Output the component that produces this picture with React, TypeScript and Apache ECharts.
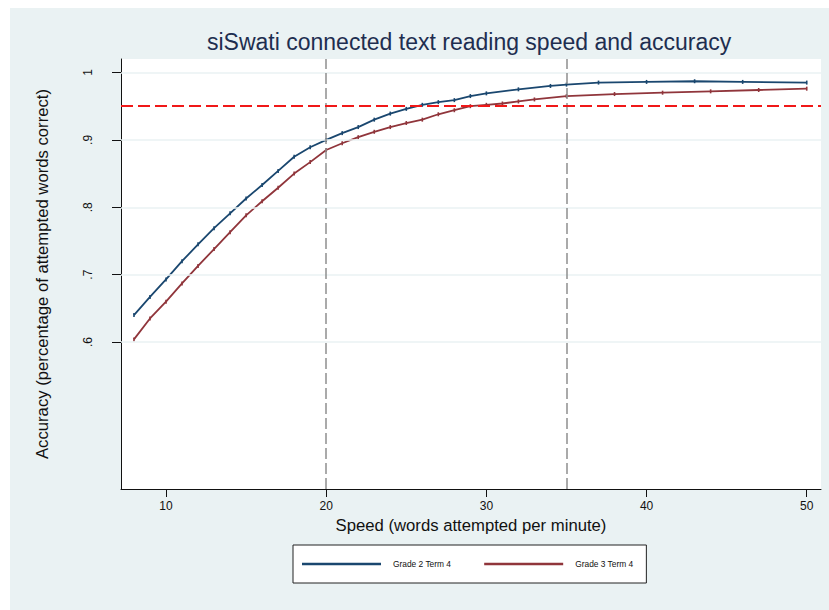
import React, { useEffect, useRef } from "react";
import * as echarts from "echarts";

const titleText = "siSwati connected text reading speed and accuracy";
const xAxisTitle = "Speed (words attempted per minute)";
const yAxisTitle = "Accuracy (percentage of attempted words correct)";

const seriesNames = ["Grade 2 Term 4", "Grade 3 Term 4"];

const grade2Speed = [8, 9, 10, 11, 12, 13, 14, 15, 16, 17, 18, 19, 20, 21, 22, 23, 24, 25, 26, 27, 28, 29, 30, 32, 34, 35, 37, 40, 43, 46, 50];
const grade2Accuracy = [0.640, 0.667, 0.693, 0.720, 0.745, 0.769, 0.791, 0.813, 0.833, 0.854, 0.875, 0.889, 0.900, 0.910, 0.919, 0.930, 0.939, 0.946, 0.952, 0.956, 0.959, 0.965, 0.969, 0.975, 0.980, 0.982, 0.985, 0.986, 0.987, 0.986, 0.985];

const grade3Speed = [8, 9, 10, 11, 12, 13, 14, 15, 16, 17, 18, 19, 20, 21, 22, 23, 24, 25, 26, 27, 28, 29, 30, 31, 32, 33, 35, 38, 41, 44, 47, 50];
const grade3Accuracy = [0.604, 0.635, 0.660, 0.687, 0.713, 0.738, 0.763, 0.788, 0.809, 0.829, 0.850, 0.867, 0.885, 0.895, 0.904, 0.912, 0.919, 0.925, 0.930, 0.938, 0.944, 0.950, 0.952, 0.954, 0.957, 0.960, 0.965, 0.968, 0.970, 0.972, 0.974, 0.976];

const xTicks = [10, 20, 30, 40, 50];
const yTicks = [0.6, 0.7, 0.8, 0.9, 1];
const verticalRefs = [20, 35];
const horizontalRef = 0.95;

const FONT = "'Liberation Sans', Arial, Helvetica, sans-serif";
const NAVY = "#1A476F";
const MAROON = "#90353B";
const BG = "#EAF2F3";

export default function App() {
  const ref = useRef<HTMLDivElement>(null);
  useEffect(() => {
    if (!ref.current) return;
    const chart = echarts.init(ref.current, null, { renderer: "svg" });
    const pairs = (xs: number[], ys: number[]) => xs.map((x, i) => [x, ys[i]]);
    chart.setOption({
      animation: false,
      backgroundColor: "#ffffff",
      textStyle: { fontFamily: FONT },
      graphic: [
        {
          type: "rect",
          z: -100,
          silent: true,
          shape: { x: 10, y: 8, width: 830, height: 610 },
          style: { fill: BG },
        },
      ],
      title: {
        text: titleText,
        left: 207,
        top: 30,
        padding: 0,
        textStyle: { fontFamily: FONT, fontSize: 23, fontWeight: "normal", color: "#1E2E50" },
      },
      legend: {
        data: seriesNames,
        left: 293,
        top: 545,
        orient: "horizontal",
        icon: "rect",
        itemWidth: 79,
        itemHeight: 2.5,
        itemGap: 33,
        backgroundColor: "#ffffff",
        borderColor: "#222222",
        borderWidth: 1,
        borderRadius: 0,
        padding: [15, 13, 15, 9],
        textStyle: { fontFamily: FONT, fontSize: 8.4, color: "#111", padding: [0, 0, 0, 7] },
      },
      grid: {
        left: 121,
        top: 59,
        width: 700,
        height: 430,
        show: true,
        backgroundColor: "#ffffff",
        borderWidth: 0,
      },
      xAxis: {
        type: "value",
        min: 7.19,
        max: 50.89,
        name: xAxisTitle,
        nameLocation: "middle",
        nameGap: 25,
        nameTextStyle: { fontFamily: FONT, fontSize: 16.7, color: "#111" },
        axisLine: { show: true, onZero: false, lineStyle: { color: "#111", width: 1 } },
        axisTick: { show: true, customValues: xTicks, length: 8, lineStyle: { color: "#111" } },
        axisLabel: { customValues: xTicks, fontSize: 12, color: "#111", margin: 11, fontFamily: FONT },
        splitLine: { show: false },
      },
      yAxis: {
        type: "value",
        min: 0.382,
        max: 1.02,
        name: yAxisTitle,
        nameLocation: "middle",
        nameRotate: 90,
        nameGap: 70,
        nameTextStyle: { fontFamily: FONT, fontSize: 16.7, color: "#111" },
        axisLine: { show: true, onZero: false, lineStyle: { color: "#111", width: 1 } },
        axisTick: { show: true, customValues: yTicks, length: 9, lineStyle: { color: "#111" } },
        axisLabel: {
          customValues: yTicks,
          rotate: 90,
          fontSize: 12,
          color: "#111",
          margin: 27,
          fontFamily: FONT,
          formatter: (v: number) => (v === 1 ? "1" : String(v).replace(/^0/, "")),
        },
        splitLine: { show: false },
      },
      series: [
        {
          name: "gridlines",
          type: "line",
          data: [],
          z: 1,
          silent: true,
          markLine: {
            silent: true,
            symbol: "none",
            label: { show: false },
            lineStyle: { color: BG, width: 1.5, type: "solid" },
            data: yTicks.map((v) => ({ yAxis: v })),
          },
        },
        {
          name: "refs",
          type: "line",
          data: [],
          z: 4,
          silent: true,
          markLine: {
            silent: true,
            symbol: "none",
            label: { show: false },
            data: [
              ...verticalRefs.map((v) => ({
                xAxis: v,
                lineStyle: { color: "#8F8F8F", width: 1.5, type: [11, 4] },
              })),
              {
                yAxis: horizontalRef,
                lineStyle: { color: "#F01818", width: 2, type: [12, 5] },
              },
            ],
          },
        },
        {
          name: seriesNames[0],
          type: "line",
          z: 3,
          data: pairs(grade2Speed, grade2Accuracy),
          color: NAVY,
          lineStyle: { color: NAVY, width: 1.8 },
          itemStyle: { color: NAVY },
          symbol: "rect",
          symbolSize: [1.6, 4],
          showSymbol: true,
        },
        {
          name: seriesNames[1],
          type: "line",
          z: 3,
          data: pairs(grade3Speed, grade3Accuracy),
          color: MAROON,
          lineStyle: { color: MAROON, width: 1.8 },
          itemStyle: { color: MAROON },
          symbol: "rect",
          symbolSize: [1.6, 4],
          showSymbol: true,
        },
      ],
    });
    return () => chart.dispose();
  }, []);
  return (
    <div
      ref={ref}
      style={{ position: "fixed", left: 0, top: 0, width: 829, height: 610 }}
    />
  );
}
